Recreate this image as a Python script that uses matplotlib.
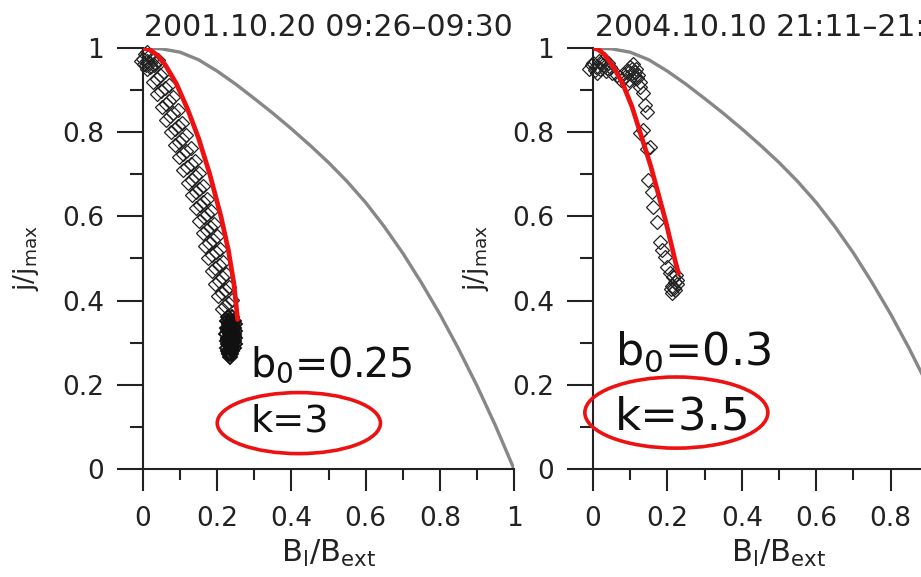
import matplotlib
matplotlib.use("Agg")
import matplotlib.pyplot as plt
from matplotlib.patches import Ellipse
from matplotlib.ticker import MultipleLocator

plt.rcParams['font.family'] = ['DejaVu Sans']
plt.rcParams['mathtext.default'] = 'regular'

# normalised current density vs B_l/B_ext, theoretical envelope (grey)
grey_x = [0, 0.05, 0.1, 0.15, 0.2, 0.25, 0.3, 0.35, 0.4, 0.45, 0.5,
          0.55, 0.6, 0.65, 0.7, 0.75, 0.8, 0.85, 0.9, 0.95, 1.0]
grey_y = [1.0, 0.998, 0.990, 0.972, 0.945, 0.914, 0.880, 0.845, 0.808, 0.769, 0.728,
          0.683, 0.633, 0.576, 0.513, 0.443, 0.368, 0.286, 0.198, 0.103, 0.0]

# 2001.10.20 event: model fit
fit1_x = [0, 0.02, 0.04, 0.06, 0.09, 0.12, 0.15, 0.18, 0.21, 0.23, 0.245, 0.255]
fit1_y = [1.0, 0.995, 0.982, 0.96, 0.915, 0.855, 0.785, 0.70, 0.60, 0.52, 0.44, 0.355]

# 2001.10.20 event: measured points (top cluster, four strands of the track, end cluster)
obs1_top_x = [0.0, 0.005, 0.01, 0.015, 0.008, 0.02, 0.025, -0.005, 0.012, 0.03, 0.018, 0.003]
obs1_top_y = [0.975, 0.985, 0.97, 0.98, 0.96, 0.965, 0.975, 0.97, 0.99, 0.96, 0.955, 0.962]
obs1_s1_x = [.012, .026, .038, .050, .062, .075, .086, .097, .108, .120,
             .131, .142, .152, .161, .168, .176, .185, .194, .203, .212]
obs1_s1_y = [.95, .92, .89, .86, .83, .80, .77, .74, .71, .68,
             .65, .62, .59, .56, .53, .50, .47, .44, .41, .38]
obs1_s2_x = [.022, .037, .049, .061, .073, .086, .097, .108, .119, .131,
             .142, .153, .163, .172, .179, .187, .195, .204, .213, .221]
obs1_s2_y = [.9575, .9275, .8975, .8675, .8375, .8075, .7775, .7475, .7175, .6875,
             .6575, .6275, .5975, .5675, .5375, .5075, .4775, .4475, .4175, .3875]
obs1_s3_x = [.031, .046, .058, .070, .082, .095, .106, .117, .128, .140,
             .151, .162, .172, .181, .188, .196, .204, .213, .222, .230]
obs1_s3_y = [.965, .935, .905, .875, .845, .815, .785, .755, .725, .695,
             .665, .635, .605, .575, .545, .515, .485, .455, .425, .395]
obs1_s4_x = [.040, .056, .069, .081, .093, .106, .117, .128, .139, .151,
             .162, .173, .183, .192, .199, .207, .215, .224, .232, .239]
obs1_s4_y = [.9725, .9425, .9125, .8825, .8525, .8225, .7925, .7625, .7325, .7025,
             .6725, .6425, .6125, .5825, .5525, .5225, .4925, .4625, .4325, .4025]
obs1_end_x = [.230, .240, .226, .236, .246, .231, .241, .249, .225, .235, .245,
              .229, .239, .248, .224, .234, .244, .228, .238, .247, .225, .235, .245,
              .229, .239, .247, .226, .236, .244, .230, .240, .233, .238, .235,
              .232, .242, .228, .238, .246, .230, .240, .234, .236, .231]
obs1_end_y = [.360, .360, .352, .352, .352, .344, .344, .344, .336, .336, .336,
              .328, .328, .328, .320, .320, .320, .312, .312, .312, .304, .304, .304,
              .296, .296, .296, .288, .288, .288, .280, .280, .272, .272, .265,
              .348, .340, .332, .324, .316, .308, .300, .292, .284, .276]

# 2004.10.10 event
fit2_x = [0, 0.015, 0.03, 0.055, 0.08, 0.105, 0.13, 0.155, 0.175, 0.195, 0.21, 0.222, 0.23]
fit2_y = [1.0, 0.996, 0.985, 0.955, 0.915, 0.86, 0.79, 0.72, 0.655, 0.59, 0.535, 0.49, 0.465]
obs2_x = [-0.01, 0.0, 0.008, 0.015, 0.02, 0.028, 0.035, 0.04, 0.012, 0.03, 0.045, 0.05,
          -0.004, 0.022, 0.038, 0.005,
          0.065, 0.075, 0.085, 0.095, 0.10, 0.105, 0.11, 0.115, 0.12, 0.125, 0.09, 0.108,
          0.098, 0.112, 0.118, 0.08, 0.104,
          0.127, 0.134, 0.14, 0.145, 0.126, 0.135, 0.153, 0.145, 0.148, 0.158, 0.161, 0.172,
          0.18, 0.185, 0.194, 0.199, 0.207, 0.226, 0.22, 0.213, 0.218, 0.225, 0.212, 0.22,
          0.216, 0.222, 0.21]
obs2_y = [0.95, 0.965, 0.955, 0.97, 0.95, 0.96, 0.945, 0.965, 0.94, 0.975, 0.955, 0.94,
          0.96, 0.962, 0.952, 0.948,
          0.935, 0.925, 0.93, 0.945, 0.955, 0.94, 0.93, 0.95, 0.935, 0.92, 0.915, 0.962,
          0.925, 0.942, 0.928, 0.938, 0.95,
          0.907, 0.893, 0.865, 0.848, 0.798, 0.805, 0.765, 0.76, 0.686, 0.658, 0.622, 0.587,
          0.539, 0.52, 0.504, 0.48, 0.465, 0.449, 0.425, 0.418, 0.43, 0.44, 0.435, 0.445,
          0.455, 0.46, 0.428]

titles = ['2001.10.20 09:26\u201309:30', '2004.10.10 21:11\u201321:15']
params = [('b$_0$=0.25', 'k=3'), ('b$_0$=0.3', 'k=3.5')]

ink = '#222222'
red = '#ee1111'
fig = plt.figure(figsize=(9.21, 5.77), dpi=100)
ax1 = fig.add_axes([0.1553, 0.1872, 0.4028, 0.7296])
ax2 = fig.add_axes([0.6439, 0.1872, 0.4039, 0.7296])

for ax, title in zip([ax1, ax2], titles):
    ax.plot(grey_x, grey_y, color='#878787', lw=2.4, zorder=2)
    ax.set_xlim(0, 1)
    ax.set_ylim(0, 1)
    for s in ['top', 'right']:
        ax.spines[s].set_visible(False)
    for s in ['left', 'bottom']:
        ax.spines[s].set_linewidth(1.5)
        ax.spines[s].set_color(ink)
    ax.xaxis.set_major_locator(MultipleLocator(0.2))
    ax.xaxis.set_minor_locator(MultipleLocator(0.1))
    ax.yaxis.set_major_locator(MultipleLocator(0.2))
    ax.yaxis.set_minor_locator(MultipleLocator(0.1))
    fmt = lambda v, p: '%g' % round(v, 2)
    ax.xaxis.set_major_formatter(fmt)
    ax.yaxis.set_major_formatter(fmt)
    ax.tick_params(axis='y', which='major', direction='out', length=19, width=1.5,
                   color=ink, labelsize=19, labelcolor=ink, pad=9)
    ax.tick_params(axis='y', which='minor', direction='out', length=9.5, width=1.5, color=ink)
    ax.tick_params(axis='x', which='major', direction='out', length=16, width=1.5,
                   color=ink, labelsize=19, labelcolor=ink, pad=11)
    ax.tick_params(axis='x', which='minor', direction='out', length=8, width=1.5, color=ink)
    ax.set_title(title, fontsize=21.5, color=ink, pad=9)
    ax.set_xlabel('B$_l$/B$_{ext}$', fontsize=22, color=ink, labelpad=4)
    ax.set_ylabel('j/j$_{max}$', fontsize=19, color=ink)
    ax.yaxis.set_label_coords(-0.275, 0.5)

mk = dict(ls='none', marker='D', ms=7.5, mfc='none', mec=ink, mew=0.9, zorder=3, clip_on=False)
for xs, ys in [(obs1_top_x, obs1_top_y), (obs1_s1_x, obs1_s1_y), (obs1_s2_x, obs1_s2_y),
               (obs1_s3_x, obs1_s3_y), (obs1_s4_x, obs1_s4_y)]:
    ax1.plot(xs, ys, **mk)
ax1.plot(obs1_end_x, obs1_end_y, **dict(mk, mew=1.4, mec='#111111'))
ax1.plot(fit1_x, fit1_y, color=red, lw=3.4, zorder=4, solid_capstyle='round')
ax2.plot(obs2_x, obs2_y, **mk)
ax2.plot(fit2_x, fit2_y, color=red, lw=3.4, zorder=4, solid_capstyle='round')

# parameter labels, k circled
ax1.text(0.289, 0.219, params[0][0], fontsize=28.5, color='#111111', va='baseline')
ax1.text(0.289, 0.088, params[0][1], fontsize=27.5, color='#111111', va='baseline')
ax1.add_patch(Ellipse((0.42, 0.109), 0.44, 0.145, fill=False, ec=red, lw=2.6, zorder=5))
ax2.text(0.059, 0.247, params[1][0], fontsize=32, color='#111111', va='baseline')
ax2.text(0.059, 0.093, params[1][1], fontsize=32.5, color='#111111', va='baseline')
ax2.add_patch(Ellipse((0.224, 0.134), 0.492, 0.169, fill=False, ec=red, lw=2.6,
                      zorder=5, clip_on=False))

fig.savefig('out.png', dpi=100)
